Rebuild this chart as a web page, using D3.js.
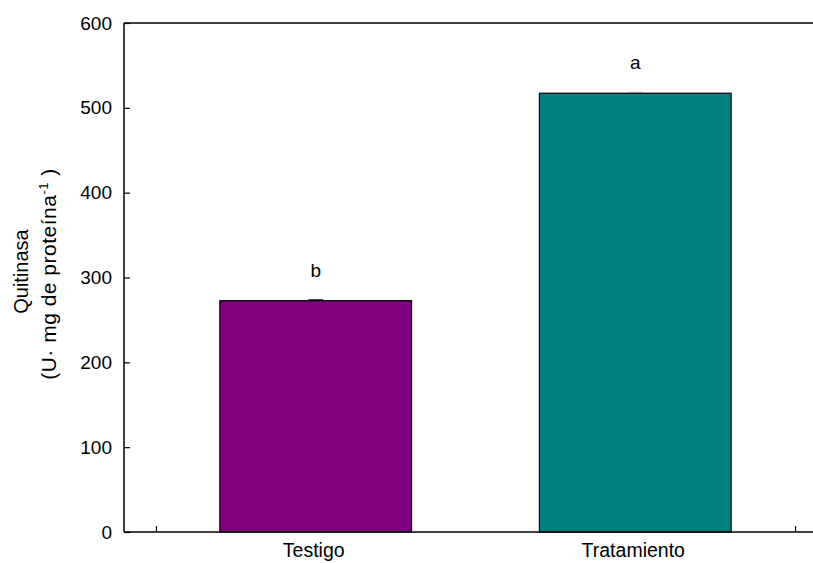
<!DOCTYPE html>
<html>
<head>
<meta charset="utf-8">
<script src="https://cdn.jsdelivr.net/npm/d3@7/dist/d3.min.js"></script>
<style>
  body { margin: 0; background: #fff; }
  svg { display: block; font-family: Arial, "Liberation Sans", sans-serif; }
</style>
</head>
<body>
<svg id="chart" width="813" height="563"></svg>
<script>
// Chitinase activity per treatment
const categories = ["Testigo", "Tratamiento"];
const values = [272.7, 517.2];
const errors = [1.0, 1.0];
const letters = ["b", "a"];
const colors = ["#800080", "#008080"];
const yTicks = [0, 100, 200, 300, 400, 500, 600];

const svg = d3.select("#chart");
const plotLeft = 124, plotTop = 23, plotBottom = 532;

// categories sit at positions 1 and 2 on a continuous axis
const x = d3.scaleLinear().domain([0.4, 2.6]).range([plotLeft, 827]);
const y = d3.scaleLinear().domain([0, 600]).range([plotBottom, plotTop]);
const barW = x(1.6) - x(1.0);

const g = svg.append("g");

// bars
g.selectAll("rect.bar").data(values).enter().append("rect")
  .attr("class", "bar")
  .attr("x", (d, i) => x(i + 1) - barW / 2)
  .attr("y", d => y(d))
  .attr("width", barW)
  .attr("height", d => y(0) - y(d))
  .attr("fill", (d, i) => colors[i])
  .attr("stroke", "#000")
  .attr("stroke-width", 1.2);

// error caps
g.selectAll("line.err").data(values).enter().append("line")
  .attr("x1", (d, i) => x(i + 1) - 7.5)
  .attr("x2", (d, i) => x(i + 1) + 7.5)
  .attr("y1", (d, i) => y(d + errors[i]))
  .attr("y2", (d, i) => y(d + errors[i]))
  .attr("stroke", (d, i) => i === 0 ? "#000" : "#888")
  .attr("stroke-width", 1);

// significance letters
g.selectAll("text.letter").data(values).enter().append("text")
  .attr("x", (d, i) => x(i + 1))
  .attr("y", d => y(d) - 24)
  .attr("text-anchor", "middle")
  .attr("font-size", 19)
  .text((d, i) => letters[i]);

// y axis with inward ticks
const yAxis = d3.axisRight(y).tickValues(yTicks).tickSize(6).tickFormat("");
const ya = svg.append("g").attr("transform", `translate(${plotLeft},0)`).call(yAxis);
ya.select(".domain").remove();
ya.selectAll(".tick line").attr("stroke", "#000").attr("stroke-width", 1.2);
svg.append("line").attr("x1", plotLeft).attr("x2", plotLeft).attr("y1", plotTop).attr("y2", plotBottom)
  .attr("stroke", "#000").attr("stroke-width", 1.5);
svg.selectAll("text.ytick").data(yTicks).enter().append("text")
  .attr("x", plotLeft - 12)
  .attr("y", d => y(d) + 6.5)
  .attr("text-anchor", "end")
  .attr("font-size", 19)
  .text(d => d);

// x axis with upward ticks at the outer edges
const xAxis = d3.axisTop(x).tickValues([0.5, 2.5]).tickSize(6).tickFormat("");
const xa = svg.append("g").attr("transform", `translate(0,${plotBottom})`).call(xAxis);
xa.select(".domain").remove();
xa.selectAll(".tick line").attr("stroke", "#000").attr("stroke-width", 1.2);
svg.append("line").attr("x1", plotLeft).attr("x2", 813).attr("y1", plotBottom).attr("y2", plotBottom)
  .attr("stroke", "#000").attr("stroke-width", 1.5);
svg.append("line").attr("x1", plotLeft).attr("x2", 813).attr("y1", plotTop).attr("y2", plotTop)
  .attr("stroke", "#000").attr("stroke-width", 1.5);

svg.selectAll("text.xcat").data(categories).enter().append("text")
  .attr("x", (d, i) => x(i + 1) - 2)
  .attr("y", 557)
  .attr("text-anchor", "middle")
  .attr("font-size", 19.5)
  .text(d => d);

// y axis title, two lines, with a raised exponent on the second
svg.append("text")
  .attr("transform", "translate(28,271.5) rotate(-90)")
  .attr("text-anchor", "middle")
  .attr("font-size", 20)
  .text("Quitinasa");
const line2 = svg.append("text")
  .attr("transform", "translate(56,274) rotate(-90)")
  .attr("text-anchor", "middle")
  .attr("font-size", 21)
  .attr("letter-spacing", 0.5);
line2.append("tspan").text("(U· mg de proteína");
line2.append("tspan").attr("dy", -8).attr("font-size", 13).text("-1");
line2.append("tspan").attr("dy", 8).text(" )");
</script>
</body>
</html>
